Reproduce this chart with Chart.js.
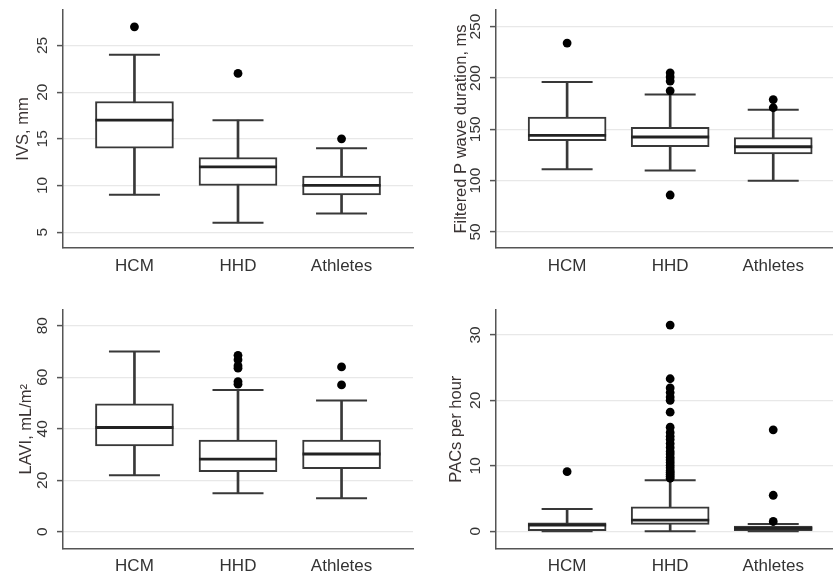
<!DOCTYPE html>
<html>
<head>
<meta charset="utf-8">
<script src="https://cdn.jsdelivr.net/npm/chart.js@4"></script>
<style>
  html, body { margin: 0; padding: 0; background: #fff; }
  #wrap { position: relative; width: 833px; height: 573px; overflow: hidden; }
  canvas { position: absolute; }
</style>
</head>
<body>
<div id="wrap">
  <canvas id="ivs" width="415" height="285" style="left:0;top:0"></canvas>
  <canvas id="pwave" width="418" height="285" style="left:415px;top:0"></canvas>
  <canvas id="lavi" width="415" height="288" style="left:0;top:285px"></canvas>
  <canvas id="pacs" width="418" height="288" style="left:415px;top:285px"></canvas>
</div>
<script>
const groups = ['HCM', 'HHD', 'Athletes'];

// per group: [lower whisker, Q1, median, Q3, upper whisker]
const ivsStats = [[9, 14, 17, 19, 24], [6, 10, 12, 13, 17], [7, 9, 10, 11, 14]];
const ivsOutliers = [[27], [22], [15]];
const ivsTicks = [5, 10, 15, 20, 25];

const pwaveStats = [[111, 139, 144, 162, 196], [110, 133, 142.5, 152, 184], [100, 126, 133, 142, 169]];
const pwaveOutliers = [[234], [205, 201, 197, 187.5, 86], [179, 171]];
const pwaveTicks = [50, 100, 150, 200, 250];

const laviStats = [[22, 33.3, 40.5, 49.7, 70], [15, 23.3, 28.2, 35.6, 55], [13, 24.5, 30.2, 35.6, 51]];
const laviOutliers = [[], [68.5, 66.8, 64.5, 63.5, 58.3, 57.3], [64, 57]];
const laviTicks = [0, 20, 40, 60, 80];

const pacsStats = [[0, 0, 0.95, 1.3, 3.4], [0, 1.05, 1.7, 3.75, 7.8], [0, 0.1, 0.45, 0.8, 1.1]];
const pacsOutliers = [[9.1],
  [31.5, 23.3, 21.9, 21.2, 20.5, 20.0, 18.2, 15.9, 15.1, 14.5, 14.0, 13.4, 12.8, 12.2,
   11.8, 11.3, 10.9, 10.5, 10.1, 9.7, 9.3, 9.0, 8.7, 8.4, 8.1],
  [15.5, 5.5, 1.5]];
const pacsTicks = [0, 10, 20, 30];

Chart.defaults.font.family = "'Liberation Sans', Arial, sans-serif";
Chart.defaults.animation = false;

const ink = '#383838';
const axisGray = '#555';

function makePanel(id, title, stats, outliers, tickVals, yMin, yMax, opts) {
  // rotated y tick labels, placed with the y scale
  const rotatedTicks = {
    id: 'rotatedTicks',
    afterDraw(chart) {
      const y = chart.scales.y;
      const ctx = chart.ctx;
      ctx.save();
      ctx.font = "15.5px 'Liberation Sans', Arial, sans-serif";
      ctx.fillStyle = '#333';
      ctx.textAlign = 'center';
      ctx.textBaseline = 'middle';
      y.ticks.forEach(t => {
        ctx.save();
        ctx.translate(chart.chartArea.left - 20, y.getPixelForValue(t.value));
        ctx.rotate(-Math.PI / 2);
        ctx.fillText(String(t.value), 0, 0);
        ctx.restore();
      });
      ctx.restore();
    }
  };

  const outlierPts = [];
  outliers.forEach((vals, gi) => vals.forEach(v => outlierPts.push({x: gi, y: v})));
  const capPts = [];
  stats.forEach((s, gi) => { capPts.push({x: gi, y: s[0]}); capPts.push({x: gi, y: s[4]}); });

  new Chart(document.getElementById(id), {
    type: 'bar',
    data: {
      datasets: [
        {
          type: 'scatter', order: 0,
          data: outlierPts,
          pointRadius: 4.4, pointBackgroundColor: '#000', pointBorderWidth: 0
        },
        {
          type: 'scatter', order: 1,
          data: stats.map((s, gi) => ({x: gi, y: s[2]})),
          pointStyle: 'line', pointRadius: 39, pointBorderColor: '#222', pointBorderWidth: 2.8
        },
        {
          type: 'bar', order: 2, grouped: false,
          data: stats.map((s, gi) => ({x: gi, y: [s[1], s[3]]})),
          barThickness: 78, backgroundColor: '#fff', borderColor: ink,
          borderWidth: 2, borderSkipped: false
        },
        {
          type: 'scatter', order: 3,
          data: capPts,
          pointStyle: 'line', pointRadius: 25.5, pointBorderColor: ink, pointBorderWidth: 2
        },
        {
          type: 'bar', order: 4, grouped: false,
          data: stats.map((s, gi) => ({x: gi, y: [s[0], s[4]]})),
          barThickness: 2, backgroundColor: ink, borderWidth: 0
        }
      ]
    },
    options: {
      responsive: false,
      events: [],
      layout: { autoPadding: false, padding: { top: opts.top, right: opts.right, left: 0, bottom: 0 } },
      plugins: { legend: { display: false }, tooltip: { enabled: false } },
      scales: {
        x: {
          type: 'linear', min: -0.69, max: opts.xMax, offset: false,
          afterBuildTicks: s => { s.ticks = [0, 1, 2].map(v => ({value: v})); },
          afterFit: s => { s.height = opts.xHeight; s.paddingLeft = 0; s.paddingRight = 0; },
          ticks: {
            callback: v => groups[v], font: { size: 17 }, color: '#333',
            padding: 8, maxRotation: 0, autoSkip: false
          },
          grid: { display: false, drawTicks: false },
          border: { color: axisGray, width: 1.5 }
        },
        y: {
          type: 'linear', min: yMin, max: yMax,
          afterBuildTicks: s => { s.ticks = tickVals.map(v => ({value: v})); },
          afterFit: s => { s.width = opts.yWidth; s.paddingTop = 0; s.paddingBottom = 0; },
          ticks: { display: false },
          grid: { color: '#e8e8e8', lineWidth: 1.2, tickLength: 6, tickColor: axisGray, tickWidth: 1.5 },
          border: { color: axisGray, width: 1.5 },
          title: {
            display: true, text: title, color: '#3a3333',
            font: { size: 16.5 }, padding: { top: opts.titlePad, bottom: 0 }
          }
        }
      }
    },
    plugins: [rotatedTicks]
  });
}

makePanel('ivs', 'IVS, mm', ivsStats, ivsOutliers, ivsTicks, 3.3, 28.8,
  { top: 10, right: 2, xMax: 2.69, xHeight: 37, yWidth: 63, titlePad: 14 });
makePanel('pwave', 'Filtered P wave duration, ms', pwaveStats, pwaveOutliers, pwaveTicks, 34.4, 266.2,
  { top: 10, right: 0, xMax: 2.58, xHeight: 37, yWidth: 81, titlePad: 37 });
makePanel('lavi', 'LAVI, mL/m²', laviStats, laviOutliers, laviTicks, -6.4, 86.1,
  { top: 25, right: 2, xMax: 2.69, xHeight: 24.7, yWidth: 63, titlePad: 17 });
makePanel('pacs', 'PACs per hour', pacsStats, pacsOutliers, pacsTicks, -2.6, 33.8,
  { top: 25, right: 0, xMax: 2.58, xHeight: 24.7, yWidth: 81, titlePad: 31.8 });
</script>
</body>
</html>
